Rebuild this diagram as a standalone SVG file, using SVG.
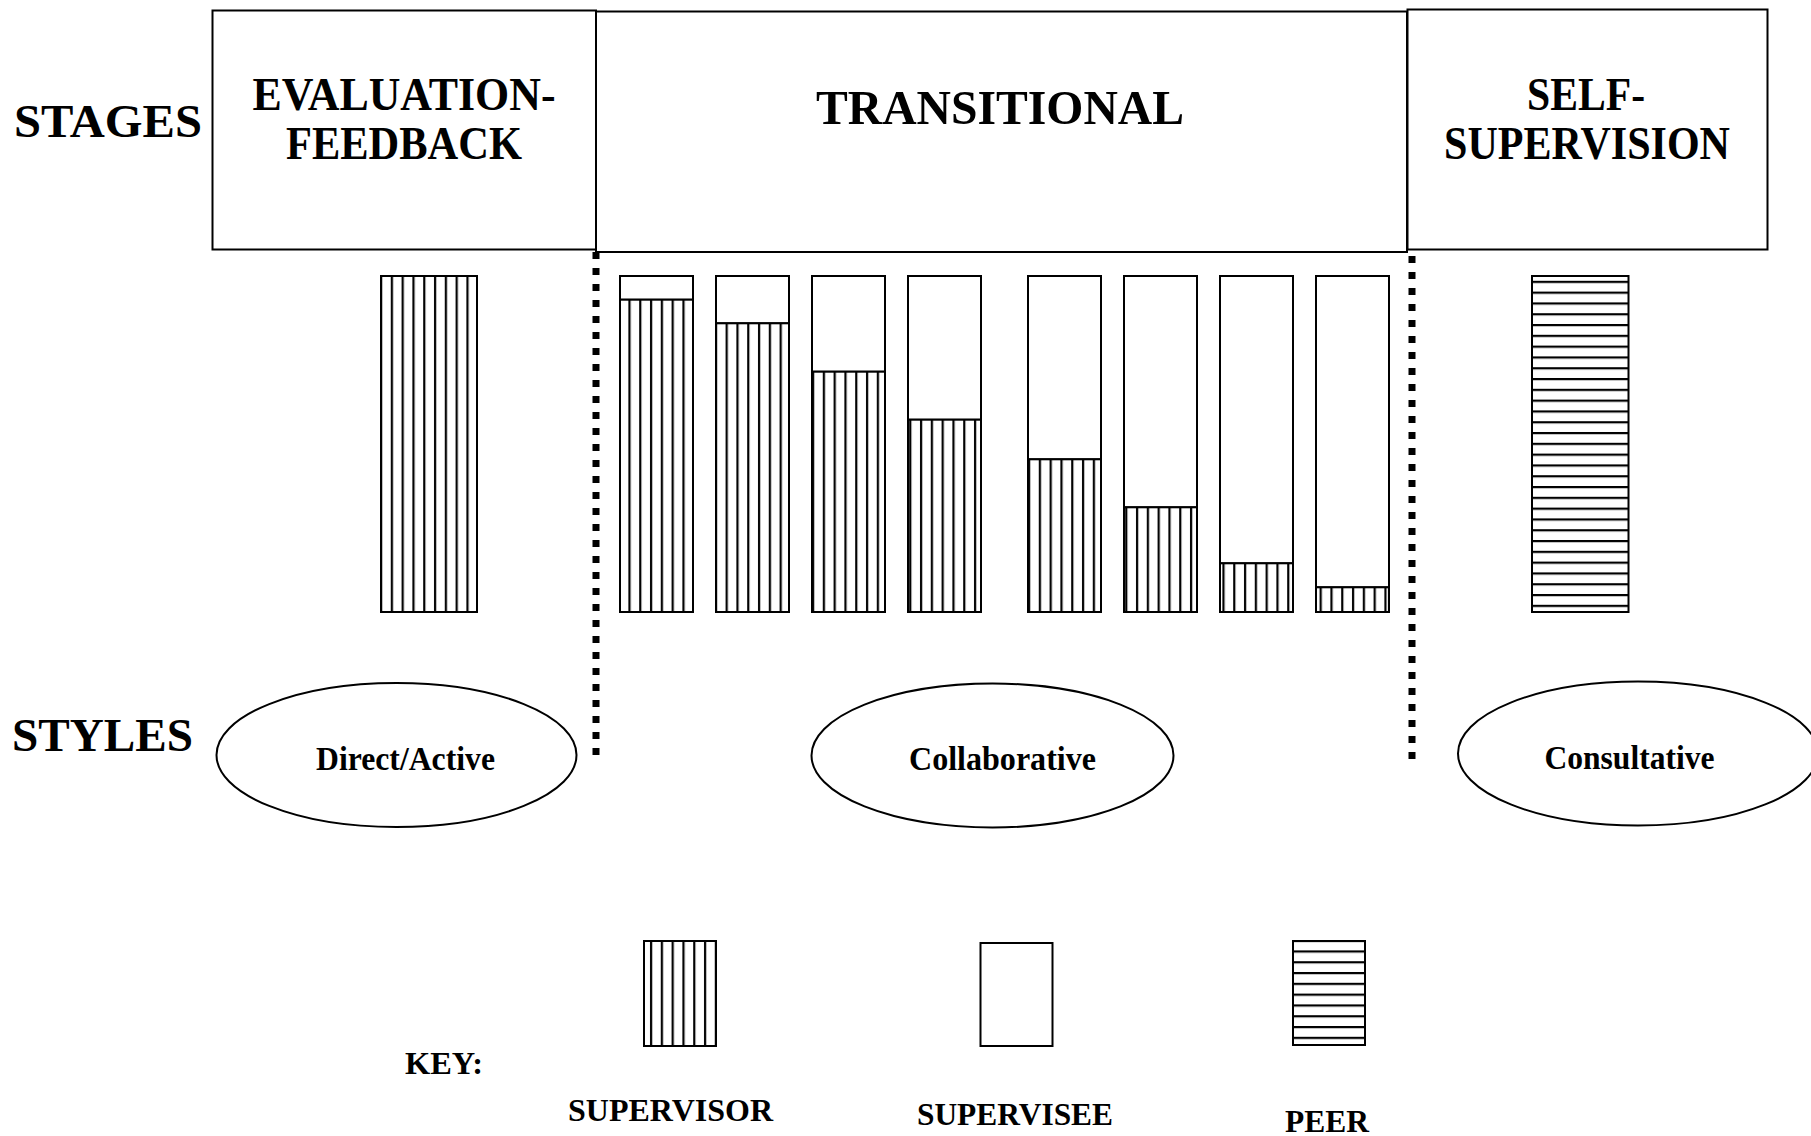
<svg xmlns="http://www.w3.org/2000/svg" width="1811" height="1136" viewBox="0 0 1811 1136">
<style>
  .box { fill: #fff; stroke: #000; stroke-width: 2; }
  .bar { stroke: #000; stroke-width: 2; }
  .sv { fill: url(#vstripe); }
  .se { fill: #fff; }
  .pe { fill: url(#hstripe); }
  .ell { fill: #fff; stroke: #000; stroke-width: 2; }
  .t { font-family: "Liberation Serif", "Times New Roman", serif; font-weight: bold; fill: #000; }
  .big { font-size: 47px; }
  .mid { font-size: 33px; }
  .key { font-size: 31px; }
  .dot { stroke: #000; stroke-width: 7; stroke-dasharray: 7 9; fill: none; }
</style>
<defs>
  <pattern id="vstripe" patternUnits="userSpaceOnUse" width="10.8" height="10">
    <rect width="10.8" height="10" fill="#fff"/>
    <rect x="2" y="0" width="2.2" height="10" fill="#000"/>
  </pattern>
  <pattern id="hstripe" patternUnits="userSpaceOnUse" width="10" height="10.8">
    <rect width="10" height="10.8" fill="#fff"/>
    <rect x="0" y="0" width="10" height="2.2" fill="#000"/>
  </pattern>
</defs>
<rect width="1811" height="1136" fill="#fff"/>

<g id="row-labels">
  <text class="t big" x="14" y="136.5" textLength="188" lengthAdjust="spacingAndGlyphs">STAGES</text>
  <text class="t big" x="12" y="751" textLength="181" lengthAdjust="spacingAndGlyphs">STYLES</text>
</g>

<g id="stage-evaluation">
  <rect class="box" x="212.5" y="10.5" width="383.5" height="239"/>
  <text class="t big" x="404" y="110" text-anchor="middle" textLength="303" lengthAdjust="spacingAndGlyphs">EVALUATION-</text>
  <text class="t big" x="404" y="159" text-anchor="middle" textLength="236" lengthAdjust="spacingAndGlyphs">FEEDBACK</text>
</g>
<g id="stage-transitional">
  <rect class="box" x="596" y="11.5" width="811" height="240.5"/>
  <text class="t" font-size="49" x="1000" y="123.5" text-anchor="middle" textLength="368" lengthAdjust="spacingAndGlyphs">TRANSITIONAL</text>
</g>
<g id="stage-self">
  <rect class="box" x="1407.5" y="9.5" width="360" height="240"/>
  <text class="t big" x="1586" y="110" text-anchor="middle" textLength="118" lengthAdjust="spacingAndGlyphs">SELF-</text>
  <text class="t big" x="1587" y="159" text-anchor="middle" textLength="286" lengthAdjust="spacingAndGlyphs">SUPERVISION</text>
</g>

<g id="connectors">
  <line class="dot" x1="596" y1="252" x2="596" y2="756"/>
  <line class="dot" x1="1412" y1="256" x2="1412" y2="760"/>
</g>

<g id="bar-evaluation">
  <rect class="bar sv" x="381" y="276" width="96" height="336"/>
</g>
<g id="bars-transitional">
  <rect class="bar se" x="620" y="276" width="73" height="23.7"/>
  <rect class="bar sv" x="620" y="299.7" width="73" height="312.3"/>
  <rect class="bar se" x="716" y="276" width="73" height="47.3"/>
  <rect class="bar sv" x="716" y="323.3" width="73" height="288.7"/>
  <rect class="bar se" x="812" y="276" width="73" height="95.7"/>
  <rect class="bar sv" x="812" y="371.7" width="73" height="240.3"/>
  <rect class="bar se" x="908" y="276" width="73" height="143.7"/>
  <rect class="bar sv" x="908" y="419.7" width="73" height="192.3"/>
  <rect class="bar se" x="1028" y="276" width="73" height="183.3"/>
  <rect class="bar sv" x="1028" y="459.3" width="73" height="152.7"/>
  <rect class="bar se" x="1124" y="276" width="73" height="231.3"/>
  <rect class="bar sv" x="1124" y="507.3" width="73" height="104.7"/>
  <rect class="bar se" x="1220" y="276" width="73" height="287.3"/>
  <rect class="bar sv" x="1220" y="563.3" width="73" height="48.7"/>
  <rect class="bar se" x="1316" y="276" width="73" height="311.3"/>
  <rect class="bar sv" x="1316" y="587.3" width="73" height="24.7"/>
</g>
<g id="bar-self">
  <rect class="bar pe" x="1532" y="276" width="96.5" height="336"/>
</g>

<g id="style-direct">
  <ellipse class="ell" cx="396.5" cy="755" rx="180" ry="72"/>
  <text class="t mid" x="405.5" y="770" text-anchor="middle" textLength="179" lengthAdjust="spacingAndGlyphs">Direct/Active</text>
</g>
<g id="style-collaborative">
  <ellipse class="ell" cx="992.5" cy="755.5" rx="181" ry="72"/>
  <text class="t mid" x="1002.5" y="770" text-anchor="middle" textLength="187" lengthAdjust="spacingAndGlyphs">Collaborative</text>
</g>
<g id="style-consultative">
  <ellipse class="ell" cx="1638" cy="753.5" rx="180" ry="72"/>
  <text class="t mid" x="1629.5" y="768.5" text-anchor="middle" textLength="170" lengthAdjust="spacingAndGlyphs">Consultative</text>
</g>

<g id="key">
  <text class="t key" x="405" y="1074" textLength="78" lengthAdjust="spacingAndGlyphs">KEY:</text>
  <g id="key-supervisor">
    <rect class="bar sv" x="644" y="941" width="72" height="105"/>
    <text class="t key" x="670.5" y="1120.5" text-anchor="middle" textLength="205" lengthAdjust="spacingAndGlyphs">SUPERVISOR</text>
  </g>
  <g id="key-supervisee">
    <rect class="bar se" x="980.5" y="943" width="72" height="103"/>
    <text class="t key" x="1015" y="1125" text-anchor="middle" textLength="196" lengthAdjust="spacingAndGlyphs">SUPERVISEE</text>
  </g>
  <g id="key-peer">
    <rect class="bar pe" x="1293" y="941" width="72" height="104"/>
    <text class="t key" x="1327" y="1131.5" text-anchor="middle" textLength="84" lengthAdjust="spacingAndGlyphs">PEER</text>
  </g>
</g>
</svg>
